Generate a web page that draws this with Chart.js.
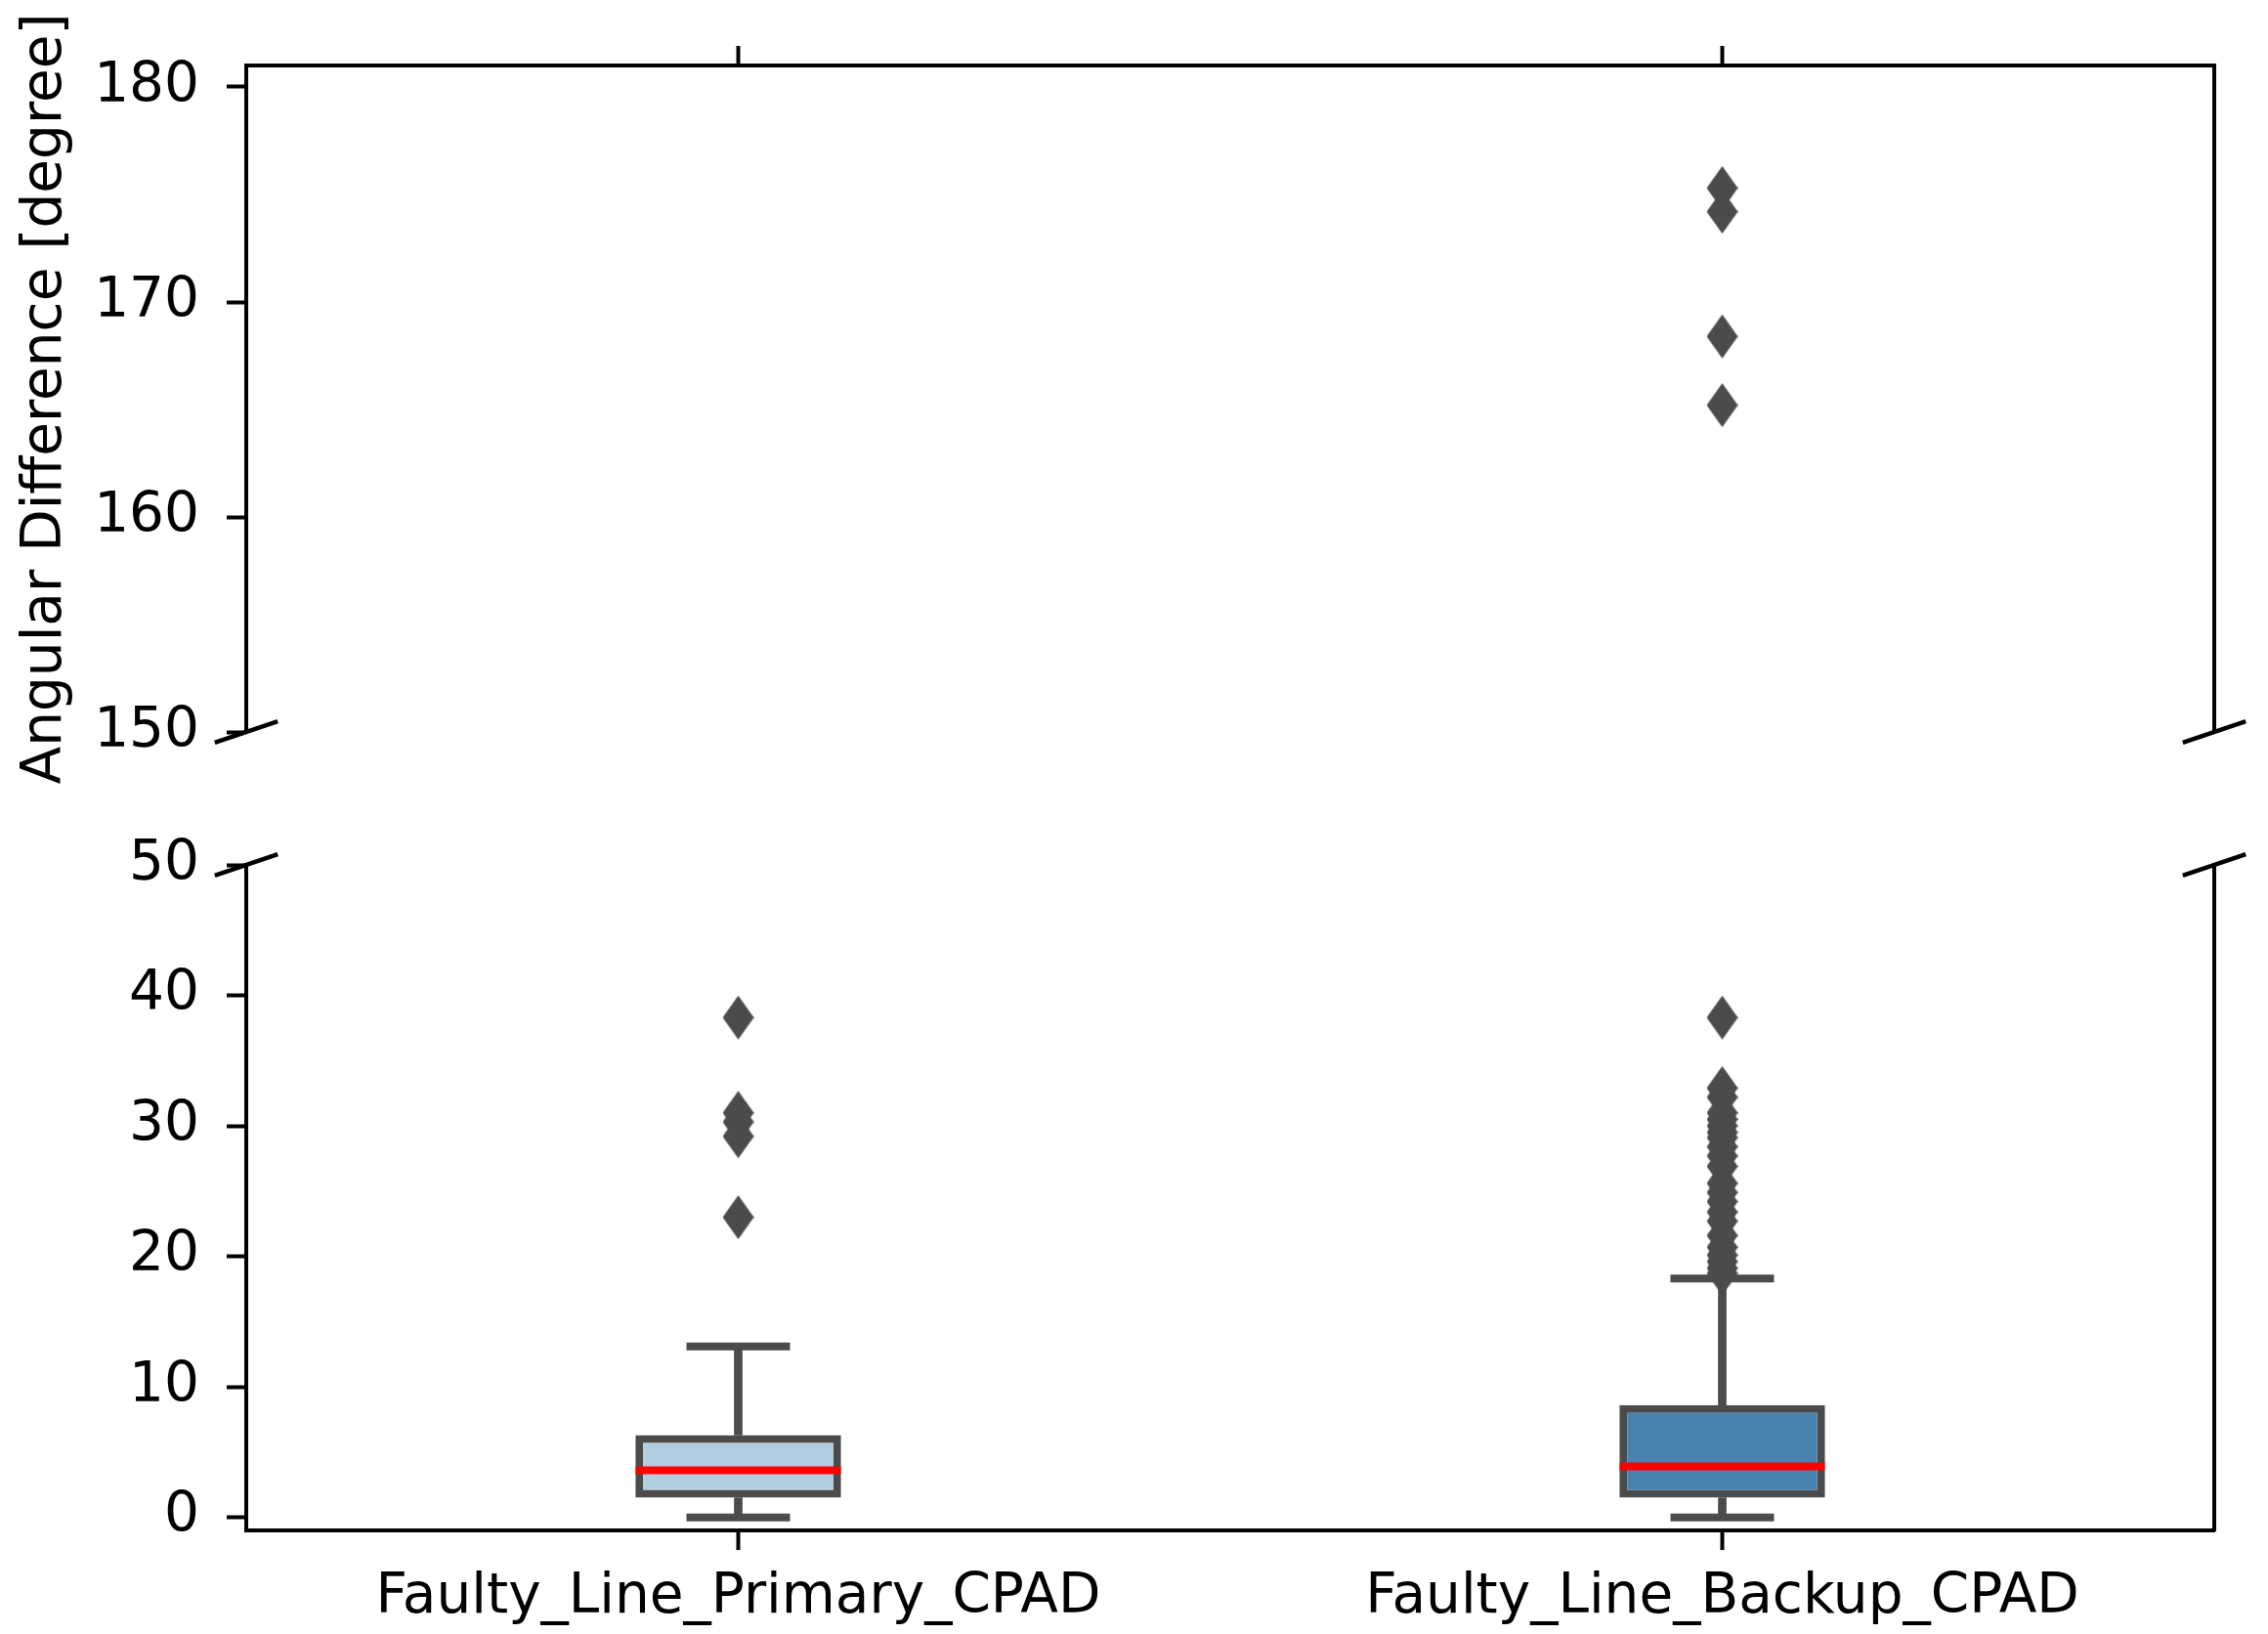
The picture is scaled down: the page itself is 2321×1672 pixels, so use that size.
<!DOCTYPE html>
<html>
<head>
<meta charset="utf-8">
<script src="https://cdn.jsdelivr.net/npm/chart.js@4.4.1/dist/chart.umd.min.js"></script>
<style>
  html, body { margin: 0; padding: 0; background: #fff; }
  .panel { position: absolute; left: 0; width: 2321px; height: 836px; }
</style>
</head>
<body>
<div class="panel" style="top:0"><canvas id="topChart"></canvas></div>
<div class="panel" style="top:836px"><canvas id="bottomChart"></canvas></div>
<script>
// data
const categories = ['Faulty_Line_Primary_CPAD', 'Faulty_Line_Backup_CPAD'];
const lowerWhisker = [0.0, 0.0];
const q1 = [1.5, 1.5];
const median = [3.6, 3.9];
const q3 = [6.3, 8.6];
const upperWhisker = [13.1, 18.3];
const primaryOutliers = [38.3, 31.0, 30.3, 29.2, 23.0];
const backupOutliers = [175.3, 174.2, 168.4, 165.2, 38.3, 32.9, 32.2, 31.0, 30.5, 30.0, 29.5, 29.1,
    28.4, 27.7, 26.9, 25.6, 24.9, 24.2, 23.4, 22.7, 21.6, 20.7, 20.1, 19.6, 19.1, 18.7];
const topTicks = [150, 160, 170, 180];
const bottomTicks = [0, 10, 20, 30, 40, 50];
const topRange = [150, 181];
const bottomRange = [-1, 50];

const FONT = 'DejaVu Sans';
const FONT_SIZE = 56.5;
const EDGE = '#4b4b4b';
const boxColors = ['#b2cde0', '#4883b0'];

// thin diamond marker like matplotlib 'd'
const makeDiamond = (w, h, color) => {
    const c = document.createElement('canvas');
    c.width = w; c.height = h;
    const g = c.getContext('2d');
    g.fillStyle = color;
    g.beginPath();
    g.moveTo(w / 2, 0); g.lineTo(w, h / 2); g.lineTo(w / 2, h); g.lineTo(0, h / 2);
    g.closePath(); g.fill();
    return c;
};
const diamond = makeDiamond(32, 45, EDGE);

const outlierPoints = (range) => {
    const pts = [];
    primaryOutliers.forEach(v => { if (v >= range[0] && v <= range[1]) pts.push({ x: categories[0], y: v }); });
    backupOutliers.forEach(v => { if (v >= range[0] && v <= range[1]) pts.push({ x: categories[1], y: v }); });
    return pts;
};

// diagonal break marks on the cut edge
const breakMarks = (edge) => ({
    id: 'breakMarks',
    afterDraw(chart) {
        const { ctx, chartArea: a } = chart;
        const dx = 0.016 * (a.right - a.left), dy = 0.016 * (a.bottom - a.top);
        const y = edge === 'bottom' ? a.bottom : a.top;
        ctx.save();
        ctx.strokeStyle = '#000';
        ctx.lineWidth = 4.5;
        [a.left, a.right].forEach(x => {
            ctx.beginPath();
            ctx.moveTo(x - dx, y + dy);
            ctx.lineTo(x + dx, y - dy);
            ctx.stroke();
        });
        ctx.restore();
    }
});

// fixed axis box sizes so both panels line up
const fixSize = (w, h) => s => {
    if (w !== null) s.width = w;
    if (h !== null) s.height = h;
    s.paddingTop = 0; s.paddingBottom = 0; s.paddingLeft = 0; s.paddingRight = 0;
};

const tickGrid = { display: true, drawOnChartArea: false, drawTicks: true, tickLength: 20, tickWidth: 4, tickColor: '#000', offset: false };
const axisBorder = { display: true, width: 4, color: '#000' };

const yScale = (range, ticks, withTitle) => ({
    position: 'left',
    min: range[0],
    max: range[1],
    afterBuildTicks: s => { s.ticks = ticks.map(v => ({ value: v })); },
    afterFit: fixSize(252, null),
    ticks: { font: { family: FONT, size: FONT_SIZE }, color: '#000', padding: 28 },
    grid: tickGrid,
    border: axisBorder,
    title: {
        display: withTitle,
        text: 'Angular Difference [degree]',
        font: { family: FONT, size: FONT_SIZE },
        color: '#000',
        padding: { top: 13, bottom: 0 }
    }
});

const rightBorder = (range) => ({
    position: 'right',
    min: range[0],
    max: range[1],
    afterFit: fixSize(55, null),
    ticks: { display: false },
    grid: { display: false },
    border: axisBorder
});

// upper panel: only the far outliers
new Chart(document.getElementById('topChart'), {
    type: 'line',
    data: {
        labels: categories,
        datasets: [{
            data: outlierPoints(topRange),
            showLine: false,
            pointStyle: diamond,
            pointRadius: 20
        }]
    },
    options: {
        responsive: true,
        maintainAspectRatio: false,
        animation: false,
        layout: { autoPadding: false, padding: { top: 0, bottom: 87, left: 0, right: 0 } },
        plugins: { legend: { display: false }, tooltip: { enabled: false } },
        scales: {
            x: {
                type: 'category',
                position: 'top',
                offset: true,
                afterFit: fixSize(null, 67),
                ticks: { display: false },
                grid: tickGrid,
                border: axisBorder
            },
            y: yScale(topRange, topTicks, true),
            yRight: rightBorder(topRange)
        }
    },
    plugins: [breakMarks('bottom')]
});

// lower panel: boxes, whiskers, medians, outliers
new Chart(document.getElementById('bottomChart'), {
    type: 'bar',
    data: {
        labels: categories,
        datasets: [
            {
                data: categories.map((c, i) => [q3[i], upperWhisker[i]]),
                backgroundColor: EDGE,
                barThickness: 8,
                grouped: false,
                order: 5
            },
            {
                data: categories.map((c, i) => [lowerWhisker[i], q1[i]]),
                backgroundColor: EDGE,
                barThickness: 8,
                grouped: false,
                order: 5
            },
            {
                data: categories.map((c, i) => [q1[i], q3[i]]),
                backgroundColor: boxColors,
                borderColor: EDGE,
                borderWidth: 8,
                borderSkipped: false,
                barPercentage: 0.209,
                categoryPercentage: 1,
                grouped: false,
                order: 4
            },
            {
                type: 'line',
                data: categories.flatMap((c, i) => [{ x: c, y: upperWhisker[i] }, { x: c, y: lowerWhisker[i] }]),
                showLine: false,
                pointStyle: 'line',
                pointRadius: 53,
                pointBorderWidth: 8,
                pointBorderColor: EDGE,
                order: 3
            },
            {
                type: 'line',
                data: outlierPoints(bottomRange),
                showLine: false,
                pointStyle: diamond,
                pointRadius: 20,
                order: 2
            },
            {
                type: 'line',
                data: categories.map((c, i) => ({ x: c, y: median[i] })),
                showLine: false,
                pointStyle: 'line',
                pointRadius: 105,
                pointBorderWidth: 8,
                pointBorderColor: '#ff0000',
                order: 0
            }
        ]
    },
    options: {
        responsive: true,
        maintainAspectRatio: false,
        animation: false,
        layout: { autoPadding: false, padding: { top: 49, bottom: 0, left: 0, right: 0 } },
        plugins: { legend: { display: false }, tooltip: { enabled: false } },
        scales: {
            x: {
                type: 'category',
                position: 'bottom',
                offset: true,
                afterFit: fixSize(null, 106),
                ticks: { font: { family: FONT, size: FONT_SIZE }, color: '#000', padding: 15, maxRotation: 0, autoSkip: false },
                grid: tickGrid,
                border: axisBorder
            },
            y: yScale(bottomRange, bottomTicks, false),
            yRight: rightBorder(bottomRange)
        }
    },
    plugins: [breakMarks('top')]
});
</script>
</body>
</html>
